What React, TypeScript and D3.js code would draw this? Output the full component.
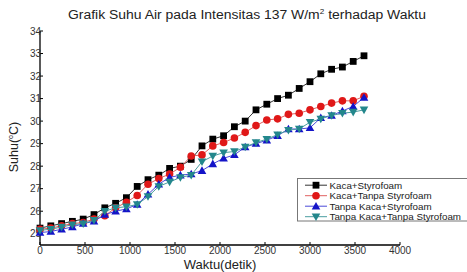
import React from "react";
import * as d3 from "d3";

// waktu (detik), tiap 120 s
const waktu = d3.range(0, 3601, 120);

const kacaStyro = [
  25.25, 25.35, 25.45, 25.55, 25.65, 25.85, 26.15, 26.35, 26.6, 27.1, 27.4,
  27.6, 27.9, 28.0, 28.3, 28.9, 29.2, 29.35, 29.75, 30.0, 30.5, 30.75, 31.0,
  31.15, 31.45, 31.75, 32.1, 32.3, 32.4, 32.65, 32.9,
];
const kacaTanpaStyro = [
  25.2, 25.25, 25.35, 25.45, 25.5, 25.65, 25.8, 26.15, 26.4, 26.7, 27.2,
  27.45, 27.65, 27.95, 28.45, 28.5, 28.9, 29.05, 29.25, 29.5, 29.8, 30.05,
  30.1, 30.3, 30.35, 30.5, 30.65, 30.8, 30.9, 30.9, 31.1,
];
const tanpaKacaStyro = [
  25.05, 25.1, 25.2, 25.3, 25.45, 25.55, 25.85, 26.0, 26.1, 26.3, 26.75,
  27.2, 27.5, 27.6, 27.65, 27.8, 28.1, 28.35, 28.5, 28.85, 29.0, 29.15,
  29.35, 29.65, 29.65, 29.7, 30.15, 30.25, 30.45, 30.65, 31.05,
];
const tanpaKacaTanpaStyro = [
  25.15, 25.2, 25.3, 25.4, 25.45, 25.6, 26.0, 26.15, 26.2, 26.3, 26.65,
  27.1, 27.3, 27.5, 27.6, 28.2, 28.45, 28.6, 28.65, 28.85, 29.05, 29.2, 29.4,
  29.6, 29.65, 29.95, 30.1, 30.25, 30.35, 30.4, 30.5,
];

const labels = [
  "Kaca+Styrofoam",
  "Kaca+Tanpa Styrofoam",
  "Tanpa Kaca+Styrofoam",
  "Tanpa Kaca+Tanpa Styrofoam",
];
const xTicks = [0, 500, 1000, 1500, 2000, 2500, 3000, 3500, 4000];
const yTicks = [25, 26, 27, 28, 29, 30, 31, 32, 33, 34];

const series = [
  { name: labels[0], values: kacaStyro, color: "#000000", line: "#333333", shape: "square" },
  { name: labels[1], values: kacaTanpaStyro, color: "#e01818", line: "#e06060", shape: "circle" },
  { name: labels[2], values: tanpaKacaStyro, color: "#1414c8", line: "#4a4ad8", shape: "up" },
  { name: labels[3], values: tanpaKacaTanpaStyro, color: "#23878c", line: "#4a9da0", shape: "down" },
];

const font = "Liberation Sans, Arial, sans-serif";

function Marker({ shape, x, y, color }) {
  if (shape === "square")
    return <rect x={x - 3.4} y={y - 3.4} width={6.8} height={6.8} fill={color} />;
  if (shape === "circle") return <circle cx={x} cy={y} r={3.8} fill={color} />;
  const s = 4.3;
  const pts =
    shape === "up"
      ? [[x, y - s], [x - s, y + s * 0.75], [x + s, y + s * 0.75]]
      : [[x, y + s], [x - s, y - s * 0.75], [x + s, y - s * 0.75]];
  return <polygon points={pts.map((p) => p.join(",")).join(" ")} fill={color} />;
}

export default function App() {
  const width = 467;
  const height = 272;
  const x = d3.scaleLinear().domain([0, 4000]).range([40, 400]);
  const y = d3.scaleLinear().domain([24.5, 34]).range([245, 31]);
  const line = d3
    .line<number>()
    .x((_, i) => x(waktu[i]))
    .y((d) => y(d));

  return (
    <svg
      width={width}
      height={height}
      style={{ position: "absolute", left: 0, top: 0, background: "#fff" }}
      fontFamily={font}
    >
      <text x={68} y={18.5} fontSize={12} fill="#222" textLength={358} lengthAdjust="spacingAndGlyphs">
        Grafik Suhu Air pada Intensitas 137 W/m
        <tspan fontSize={7} dy={-5}>2</tspan>
        <tspan dy={5}> terhadap Waktu</tspan>
      </text>

      {/* axes */}
      <line x1={x(0)} x2={x(0)} y1={y(34)} y2={y(24.5)} stroke="#000" strokeWidth={1.3} />
      <line x1={x(0)} x2={x(4000)} y1={y(24.5)} y2={y(24.5)} stroke="#000" strokeWidth={1.3} />
      {yTicks.map((t) => (
        <g key={t}>
          <line x1={x(0)} x2={x(0) + 3} y1={y(t)} y2={y(t)} stroke="#000" />
          <text x={x(0) + 1} y={y(t) + 3.5} fontSize={10} textAnchor="end" fill="#333">
            {t}
          </text>
        </g>
      ))}
      {xTicks.map((t) => (
        <g key={t}>
          <line x1={x(t)} x2={x(t)} y1={y(24.5)} y2={y(24.5) - 3} stroke="#000" />
          <text x={x(t)} y={253.5} fontSize={10} textAnchor="middle" fill="#333">
            {t}
          </text>
        </g>
      ))}

      <text x={220} y={269} fontSize={13} textAnchor="middle" fill="#222">
        Waktu(detik)
      </text>
      <text transform="translate(18,147) rotate(-90)" fontSize={12.5} textAnchor="middle" fill="#222">
        Suhu(<tspan fontSize={7} dy={-5}>o</tspan>
        <tspan dy={5}>C)</tspan>
      </text>

      {series.map((s) => (
        <g key={s.name}>
          <path d={line(s.values) || ""} fill="none" stroke={s.line} strokeWidth={1} />
          {s.values.map((v, i) => (
            <Marker key={i} shape={s.shape} x={x(waktu[i])} y={y(v)} color={s.color} />
          ))}
        </g>
      ))}

      {/* legend */}
      <rect x={297.5} y={178.5} width={180} height={42.5} fill="#fff" stroke="#777" strokeWidth={1} />
      {series.map((s, i) => {
        const cy = 185.2 + i * 10.5;
        return (
          <g key={s.name}>
            <line x1={305} x2={327} y1={cy} y2={cy} stroke={s.line} strokeWidth={1} />
            <Marker shape={s.shape} x={316} y={cy} color={s.color} />
            <text x={329.5} y={cy + 3.3} fontSize={9.8} fill="#222">
              {s.name}
            </text>
          </g>
        );
      })}
    </svg>
  );
}
